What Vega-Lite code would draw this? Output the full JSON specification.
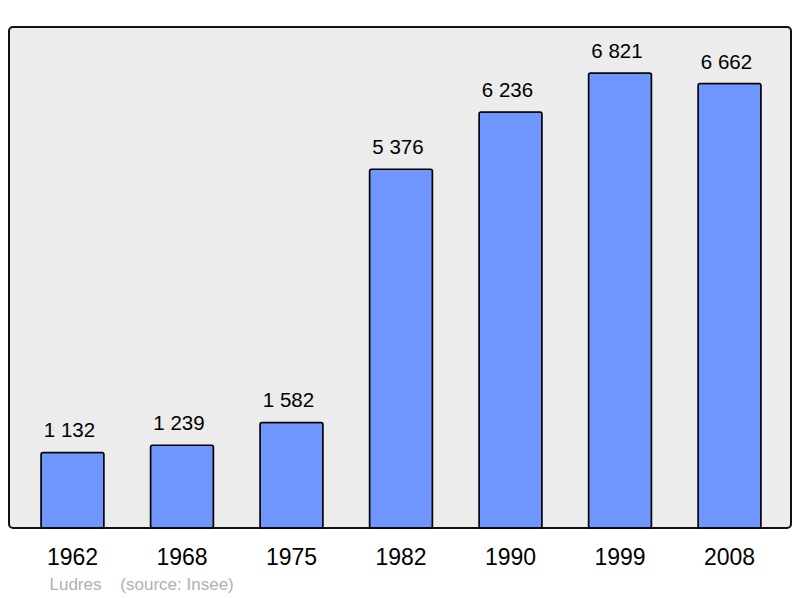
{
  "$schema": "https://vega.github.io/schema/vega-lite/v6.json",
  "width": 782,
  "height": 501,
  "autosize": {"type": "none"},
  "padding": {"left": 9, "top": 27, "right": 9, "bottom": 70},
  "background": "white",
  "config": {
    "font": "Liberation Sans",
    "locale": {"number": {"decimal": ",", "thousands": " ", "grouping": [3], "currency": ["", " €"]}},
    "view": {"fill": "#ececec", "stroke": "#111111", "strokeWidth": 2, "cornerRadius": 4}
  },
  "data": {
    "values": [
      {"year": "1962", "pop": 1132},
      {"year": "1968", "pop": 1239},
      {"year": "1975", "pop": 1582},
      {"year": "1982", "pop": 5376},
      {"year": "1990", "pop": 6236},
      {"year": "1999", "pop": 6821},
      {"year": "2008", "pop": 6662}
    ]
  },
  "encoding": {
    "x": {
      "field": "year",
      "type": "ordinal",
      "sort": null,
      "scale": {"paddingInner": 0.425, "paddingOuter": 0.283, "range": [1, 783]},
      "axis": {
        "labelAngle": 0,
        "labelFontSize": 23,
        "labelColor": "#000000",
        "labelPadding": 18,
        "domain": false,
        "ticks": false,
        "title": "Ludres\u00a0\u00a0\u00a0\u00a0(source: Insee)",
        "titleFontSize": 17,
        "titleFontWeight": "normal",
        "titleColor": "#b0b0b0",
        "titleAlign": "left",
        "titleAnchor": "start",
        "titleBaseline": "middle",
        "titleX": 40,
        "titleY": 56
      }
    },
    "y": {
      "field": "pop",
      "type": "quantitative",
      "scale": {"domain": [0, 7510], "nice": false},
      "axis": null
    }
  },
  "layer": [
    {
      "mark": {"type": "bar", "color": "#6f96ff", "stroke": "#000000", "strokeWidth": 1.5, "cornerRadius": 2}
    },
    {
      "mark": {"type": "text", "baseline": "bottom", "dy": -11, "dx": -3, "fontSize": 20.5, "color": "#000000"},
      "encoding": {"text": {"field": "pop", "type": "quantitative", "format": ",d"}}
    }
  ]
}
